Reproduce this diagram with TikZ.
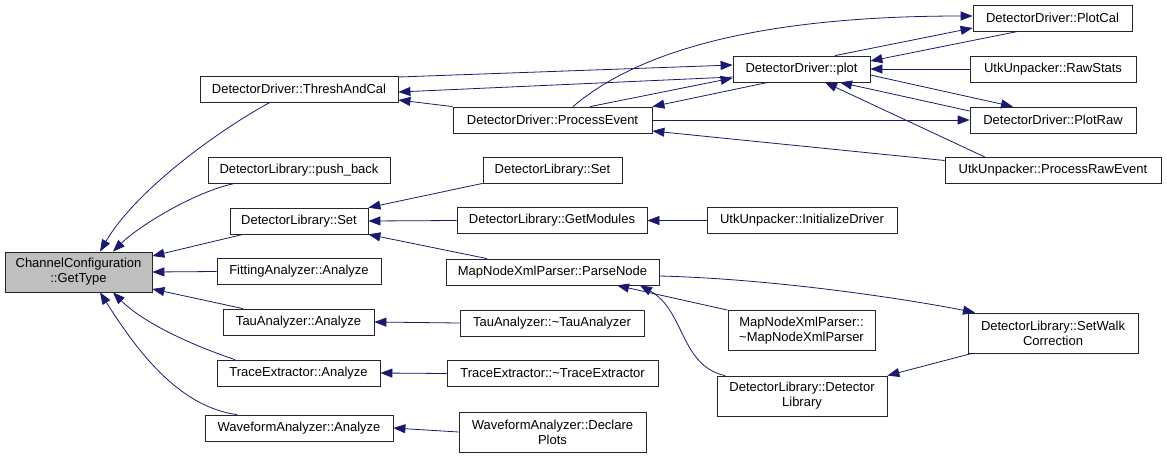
\documentclass[tikz,border=0pt]{standalone}
\usepackage{fontspec}
\setmainfont{Liberation Sans}
\usetikzlibrary{arrows.meta}
\definecolor{midnight}{HTML}{191970}

\begin{document}
\begin{tikzpicture}[x = 1pt, y = -1pt,
    func/.style = {draw = black!85, line width = 0.8pt, fill = white, minimum height = 26pt,
        inner sep = 2pt, align = center, font = \fontsize{13}{15}\selectfont},
    func2/.style = {func, minimum height = 40pt},
    call/.style = {draw = midnight, line width = 0.8pt, -{Triangle[length = 12pt, width = 9pt]}}]
    \path[use as bounding box](0,0)rectangle(1167,458);

    % 左列
    \node[func2, fill = black!25, minimum width = 147pt](gt)at(78.5,272){ChannelConfiguration\\::GetType};
    \node[func, minimum width = 198pt](tac)at(299,89){DetectorDriver::ThreshAndCal};
    \node[func, minimum width = 182pt](pb)at(299,170){DetectorLibrary::push\_back};
    \node[func, minimum width = 138pt](set1)at(299,221){DetectorLibrary::Set};
    \node[func, minimum width = 164pt](fit)at(299,271.5){FittingAnalyzer::Analyze};
    \node[func, minimum width = 151pt](tau)at(298.5,322){TauAnalyzer::Analyze};
    \node[func, minimum width = 163pt](tra)at(298.5,373){TraceExtractor::Analyze};
    \node[func, minimum width = 188pt](wav)at(299,428){WaveformAnalyzer::Analyze};

    % 中列
    \node[func, minimum width = 199pt](pe)at(552.5,120){DetectorDriver::ProcessEvent};
    \node[func, minimum width = 139pt](set2)at(552.5,170){DetectorLibrary::Set};
    \node[func, minimum width = 190pt](gm)at(552,220.5){DetectorLibrary::GetModules};
    \node[func, minimum width = 213pt](pn)at(552.5,272){MapNodeXmlParser::ParseNode};
    \node[func, minimum width = 184pt](dtau)at(552,323){TauAnalyzer::\textasciitilde TauAnalyzer};
    \node[func, minimum width = 211pt](dtra)at(552.5,373.5){TraceExtractor::\textasciitilde TraceExtractor};
    \node[func2, minimum width = 187pt](dec)at(552.5,432){WaveformAnalyzer::Declare\\Plots};

    % 右列
    \node[func, minimum width = 137pt](plot)at(801.5,69){DetectorDriver::plot};
    \node[func, minimum width = 190pt](init)at(802,220.5){UtkUnpacker::InitializeDriver};
    \node[func2, minimum width = 147pt](dmap)at(801.5,330.5){MapNodeXmlParser::\\\textasciitilde MapNodeXmlParser};
    \node[func2, minimum width = 170pt](dlib)at(802,396){DetectorLibrary::Detector\\Library};

    % 右端
    \node[func, minimum width = 159pt](pcal)at(1052.5,18){DetectorDriver::PlotCal};
    \node[func, minimum width = 166pt](raws)at(1053,69){UtkUnpacker::RawStats};
    \node[func, minimum width = 166pt](praw)at(1053,120){DetectorDriver::PlotRaw};
    \node[func, minimum width = 216pt](pre)at(1053,170.5){UtkUnpacker::ProcessRawEvent};
    \node[func2, minimum width = 170pt](swc)at(1053,333){DetectorLibrary::SetWalk\\Correction};

    % GetType への呼び出し
    \path[call]([xshift = -29pt]tac.south) .. controls +(-55,30) and +(35,-60) .. ([xshift = 21.5pt]gt.north);
    \path[call]([xshift = -64pt]pb.south) .. controls +(-40,8) and +(25,-25) .. ([xshift = 34.5pt]gt.north);
    \path[call]([xshift = -56pt]set1.south)--([yshift = 16pt]gt.east);
    \path[call](fit.west)--(gt.east);
    \path[call]([xshift = -55.5pt]tau.north)--([yshift = -17pt]gt.east);
    \path[call]([xshift = -63.5pt]tra.north) .. controls +(-45,-15) and +(30,30) .. ([xshift = 34.5pt]gt.south);
    \path[call]([xshift = -62pt]wav.north) .. controls +(-60,-8) and +(35,55) .. ([xshift = 21.5pt]gt.south);

    % ThreshAndCal, plot, ProcessEvent
    \path[call](pe.north west)--([yshift = -11pt]tac.east);
    \path[call]([yshift = -8pt]plot.west)--([yshift = -3pt]tac.east);
    \path[call]([yshift = 12pt]tac.east)--([yshift = 4pt]plot.west);
    \path[call]([xshift = 37.5pt]pe.north)--([yshift = -9pt]plot.west);
    \path[call]([xshift = 20.5pt]pe.north) .. controls +(70,-60) and +(-200,0) .. ([yshift = 2pt]pcal.west);
    \path[call]([xshift = -33.5pt]plot.south)--(pe.north east);
    \path[call](pe.east)--(praw.west);
    \path[call]([yshift = 10pt]pre.west)--([yshift = -11pt]pe.east);

    % plot の周り
    \path[call]([xshift = 33.5pt]plot.north)--([yshift = -10pt]pcal.west);
    \path[call]([xshift = -34.5pt]pcal.south)--([yshift = 8pt]plot.east);
    \path[call](raws.west)--(plot.east);
    \path[call]([yshift = -6pt]plot.east)--([xshift = -40pt]praw.north);
    \path[call]([yshift = 9pt]praw.west)--([xshift = 38.5pt]plot.south);
    \path[call]([xshift = -68pt]pre.north)--([xshift = 23.5pt]plot.south);

    % Set と ParseNode
    \path[call](set2.south west)--(set1.north east);
    \path[call](gm.west)--(set1.east);
    \path[call]([xshift = -65.5pt]pn.north)--(set1.south east);
    \path[call](init.west)--(gm.east);
    \path[call]([yshift = -4pt]pn.east) .. controls +(120,3) and +(-60,-12) .. ([xshift = -78pt]swc.north);
    \path[call]([xshift = -81pt]swc.south)--(dlib.north east);
    \path[call](dmap.north west)--([xshift = 64.5pt]pn.south);
    \path[call]([xshift = -77pt]dlib.north) .. controls +(-45,-10) and +(45,25) .. ([xshift = 87.5pt]pn.south);

    % デストラクタ
    \path[call](dtau.west)--(tau.east);
    \path[call](dtra.west)--(tra.east);
    \path[call](dec.west)--(wav.east);
\end{tikzpicture}
\end{document}
